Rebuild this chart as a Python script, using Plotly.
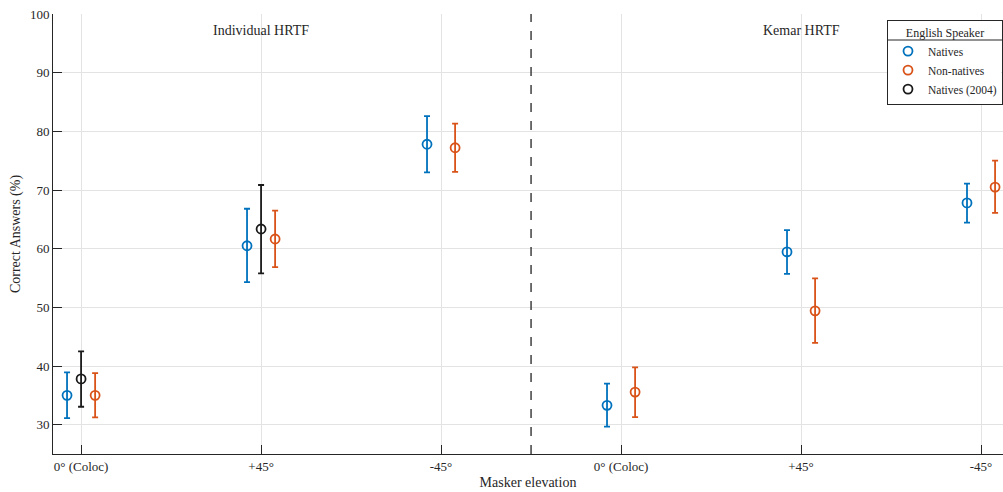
import plotly.graph_objects as go

positions = [1, 2, 3, 4, 5, 6]
tick_labels = ["0° (Coloc)", "+45°", "-45°", "0° (Coloc)", "+45°", "-45°"]

natives = [35.0, 60.5, 77.8, 33.3, 59.45, 67.8]
natives_hi = [38.9, 66.8, 82.6, 37.0, 63.15, 71.1]
natives_lo = [31.1, 54.3, 73.0, 29.65, 55.7, 64.45]

nonnatives = [35.0, 61.65, 77.2, 35.55, 49.4, 70.5]
nonnatives_hi = [38.8, 66.5, 81.3, 39.75, 54.95, 75.0]
nonnatives_lo = [31.25, 56.85, 73.1, 31.3, 43.95, 66.1]

natives2004_pos = [1, 2]
natives2004 = [37.8, 63.35]
natives2004_hi = [42.5, 70.85]
natives2004_lo = [33.05, 55.8]

offset = 0.078
font_family = "Liberation Serif"
axis_color = "#262626"


def err(vals, hi, lo):
    return dict(type="data", symmetric=False,
                array=[h - v for h, v in zip(hi, vals)],
                arrayminus=[v - l for v, l in zip(vals, lo)])


fig = go.Figure()


def add_series(name, xs, vals, hi, lo, color):
    e = err(vals, hi, lo)
    e.update(color=color, thickness=1.8, width=3)
    fig.add_trace(go.Scatter(
        x=xs, y=vals, mode="markers", name=name,
        marker=dict(symbol="circle-open", size=9, color=color,
                    line=dict(width=1.8, color=color)),
        error_y=e))


add_series("Natives", [p - offset for p in positions], natives, natives_hi, natives_lo, "#0072BD")
add_series("Non-natives", [p + offset for p in positions], nonnatives, nonnatives_hi, nonnatives_lo, "#D95319")
add_series("Natives (2004)", natives2004_pos, natives2004, natives2004_hi, natives2004_lo, "#1a1a1a")

fig.add_shape(type="line", x0=3.5, x1=3.5, y0=25, y1=100, xref="x", yref="y",
              line=dict(color="#404040", width=1.5, dash="dash"))

fig.add_annotation(x=2, y=97.2, xref="x", yref="y", text="Individual HRTF",
                   showarrow=False, font=dict(family=font_family, size=14, color=axis_color))
fig.add_annotation(x=5, y=97.2, xref="x", yref="y", text="Kemar HRTF",
                   showarrow=False, font=dict(family=font_family, size=14, color=axis_color))


def px_x(p):
    return (p - 53) / 950


def px_y(p):
    return 1 - (p - 14) / 440


leg_y_top = px_y(20)
# legend background and title separator (legend itself is transparent)
fig.add_shape(type="rect", xref="paper", yref="paper", x0=px_x(888), x1=px_x(1001),
              y0=px_y(104), y1=px_y(21), fillcolor="white",
              line=dict(width=0), layer="above")
fig.add_shape(type="line", xref="paper", yref="paper", x0=px_x(887.5), x1=px_x(1002),
              y0=px_y(40), y1=px_y(40),
              line=dict(color=axis_color, width=1), layer="above")

fig.update_layout(
    width=1003, height=492,
    margin=dict(l=53, r=0, t=14, b=38, autoexpand=False),
    paper_bgcolor="white", plot_bgcolor="white",
    font=dict(family=font_family, size=13, color=axis_color),
    showlegend=True,
    legend=dict(
        x=1.0, y=leg_y_top, xanchor="right", yanchor="top",
        bgcolor="rgba(0,0,0,0)", bordercolor=axis_color, borderwidth=1,
        title=dict(text="English Speaker", side="top center",
                   font=dict(family=font_family, size=12)),
        font=dict(family=font_family, size=11.5),
        tracegroupgap=0, itemwidth=30,
    ),
    xaxis=dict(
        range=[0.844, 6.122], tickmode="array", tickvals=positions, ticktext=tick_labels,
        showgrid=True, gridcolor="#e3e3e3", gridwidth=1,
        showline=True, linecolor=axis_color, linewidth=1,
        ticks="inside", ticklen=9, tickcolor=axis_color,
        zeroline=False, mirror=False,
        title=dict(text="Masker elevation", font=dict(family=font_family, size=14), standoff=4),
        tickfont=dict(family=font_family, size=13, color=axis_color),
    ),
    yaxis=dict(
        range=[25, 100], tickmode="array", tickvals=[30, 40, 50, 60, 70, 80, 90, 100],
        showgrid=True, gridcolor="#e3e3e3", gridwidth=1,
        showline=True, linecolor=axis_color, linewidth=1,
        ticks="inside", ticklen=9, tickcolor=axis_color,
        zeroline=False, mirror=False,
        title=dict(text="Correct Answers (%)", font=dict(family=font_family, size=14), standoff=6),
        tickfont=dict(family=font_family, size=13, color=axis_color),
    ),
)

fig.write_html("out.html")
